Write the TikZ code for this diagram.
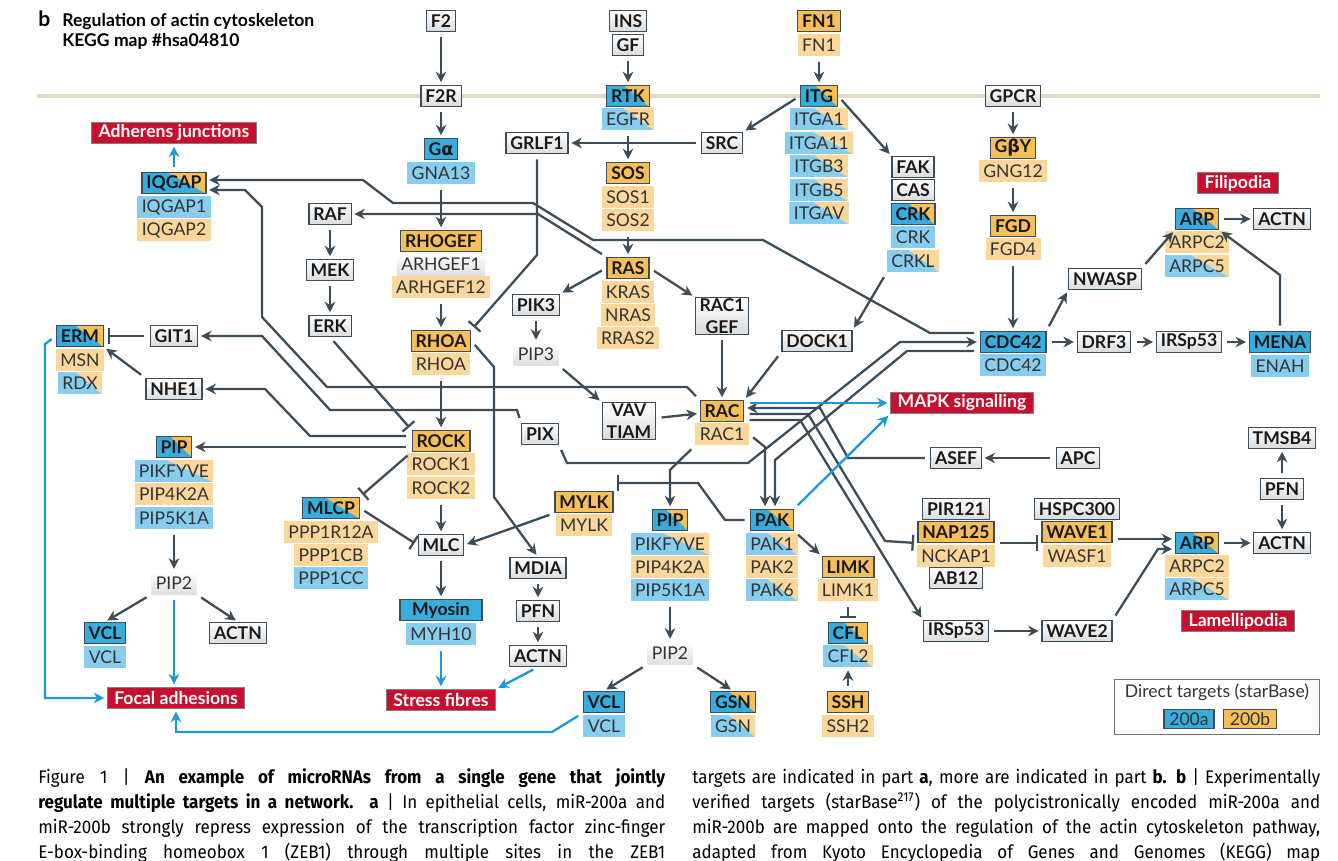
\documentclass[tikz,border=0pt]{standalone}
\usepackage{fontspec}
\setmainfont{Lato}
\newfontfamily\grkfont{DejaVu Sans}
\newfontfamily\capfont[FakeStretch=0.93]{Fira Sans}
\usepackage{xcolor}
\usepackage{tikz}
\usetikzlibrary{arrows.meta}
\usetikzlibrary{calc}

\definecolor{lnc}{HTML}{3E4C57}
\definecolor{bluarr}{HTML}{1C9AD6}
\definecolor{cAbox}{HTML}{38ACDD}
\definecolor{cBbox}{HTML}{F6BF5A}
\definecolor{cAg}{HTML}{86CDEE}
\definecolor{cBg}{HTML}{FCD79C}
\definecolor{phred}{HTML}{C8102E}
\definecolor{membr}{HTML}{E2D8C8}

\tikzset{
	mixfill/.style 2 args={path picture={
		\fill[#1] (path picture bounding box.south west) rectangle (path picture bounding box.north east);
		\fill[#2] ($(path picture bounding box.north west)!0.4!(path picture bounding box.north east)$) -- (path picture bounding box.north east) -- (path picture bounding box.south east) -- cycle;}},
	box/.style={draw=lnc, line width=0.7pt, top color=white, bottom color=gray!28, text=black!90,
		font=\fontsize{10}{12.5}\selectfont\bfseries, inner xsep=2.5pt, inner ysep=0.5pt, minimum height=0.42cm},
	bA/.style={box, top color=cAbox, bottom color=cAbox},
	bB/.style={box, top color=cBbox, bottom color=cBbox},
	bAB/.style={box, mixfill={cAbox}{cBbox}},
	gene/.style={font=\fontsize{10}{12}\selectfont, text=black!80, inner xsep=2.5pt, inner ysep=0pt, minimum height=0.45cm},
	gA/.style={gene, fill=cAg},
	gB/.style={gene, fill=cBg},
	gN/.style={gene, top color=white, bottom color=gray!25},
	gAB/.style={gene, mixfill={cAg}{cBg}},
	pheno/.style={fill=phred, draw=black!50, line width=0.5pt, text=white, font=\fontsize{10}{12}\selectfont\bfseries,
		inner xsep=4pt, inner ysep=0pt, minimum height=0.42cm},
	act/.style={draw=lnc, line width=1.3pt, -{Stealth[length=6pt,width=6pt]}, shorten >=1.5pt, shorten <=3pt},
	inh/.style={draw=lnc, line width=1.3pt, -{Bar[width=9pt]}, shorten >=2pt, shorten <=3pt},
	blu/.style={draw=bluarr, line width=1.3pt, -{Stealth[length=6pt,width=6pt]}, shorten >=1.5pt, shorten <=3pt},
	capl/.style={anchor=base west, inner sep=0pt, font=\capfont\fontsize{10.4}{12}\selectfont},
}

\begin{document}
\begin{tikzpicture}[x=0.02cm,y=-0.02cm]
	\useasboundingbox (0,0) rectangle (1338,861);
	\fill[white] (0,0) rectangle (1338,861);
	% title and membrane
	\node[anchor=base west, inner sep=0pt, font=\fontsize{12}{13}\selectfont\bfseries] (blbl) at (38,27) {b};
	\node[anchor=base west, inner sep=0pt, font=\fontsize{10}{12}\selectfont\bfseries] (title1) at (62,27) {Regulation of actin cytoskeleton};
	\node[anchor=base west, inner sep=0pt, font=\fontsize{10}{12}\selectfont\bfseries] (title2) at (62,47) {KEGG map \#hsa04810};
	\draw[membr, line width=2.8pt] (37,96) -- (1320,96);

	% receptors
	\node[box] (f2) at (441,21) {F2};
	\node[box] (f2r) at (441,96) {F2R};
	\node[bA] (ga) at (441,149) {G{\grkfont α}};
	\node[gA] (gna13) at (441,173) {GNA13};
	\node[box] (ins) at (628,21) {INS};
	\node[box] (gf) at (628,45) {GF};
	\node[bAB] (rtk) at (628,96) {RTK};
	\node[gAB] (egfr) at (628,119) {EGFR};
	\node[box] (src) at (722,143) {SRC};
	\node[box] (grlf1) at (537,143) {GRLF1};
	\node[bB] (sos) at (628,173) {SOS};
	\node[gB] (sos1) at (628,197) {SOS1};
	\node[gB] (sos2) at (628,220) {SOS2};
	\node[bB] (fn1) at (819,21) {FN1};
	\node[gB] (fn1g) at (819,45) {FN1};
	\node[bAB] (itg) at (819,96) {ITG};
	\node[gAB] (itga1) at (819,119) {ITGA1};
	\node[gAB] (itga11) at (819,143) {ITGA11};
	\node[gAB] (itgb3) at (819,166) {ITGB3};
	\node[gAB] (itgb5) at (819,190) {ITGB5};
	\node[gAB] (itgav) at (819,213) {ITGAV};
	\node[box] (fak) at (913,167) {FAK};
	\node[box] (cas) at (913,190) {CAS};
	\node[bAB] (crk) at (913,214) {CRK};
	\node[gA] (crkg) at (913,237) {CRK};
	\node[gAB] (crkl) at (913,261) {CRKL};
	\node[box] (gpcr) at (1013,96) {GPCR};
	\node[bB] (gby) at (1013,148) {G{\grkfont β}Y};
	\node[gB] (gng12) at (1013,171) {GNG12};
	\node[bB] (fgd) at (1013,226) {FGD};
	\node[gB] (fgd4) at (1013,249) {FGD4};

	% right side
	\node[pheno] (filo) at (1238,183) {Filipodia};
	\node[bAB] (arpf) at (1197,219) {ARP};
	\node[gB] (arpc2f) at (1197,242) {ARPC2};
	\node[gAB] (arpc5f) at (1197,266) {ARPC5};
	\node[box] (actnf) at (1282,219) {ACTN};
	\node[box] (nwasp) at (1105,279) {NWASP};
	\node[bA] (cdc42) at (1013,342) {CDC42};
	\node[gA] (cdc42g) at (1013,365) {CDC42};
	\node[box] (drf3) at (1104,342) {DRF3};
	\node[box] (irsp53a) at (1189,342) {IRSp53};
	\node[bA] (mena) at (1280,342) {MENA};
	\node[gA] (enah) at (1280,366) {ENAH};
	\node[pheno] (mapk) at (962,403) {MAPK signalling};
	\node[box] (tmsb4) at (1282,438) {TMSB4};
	\node[box] (pfnr) at (1282,489) {PFN};
	\node[box] (actnl) at (1282,543) {ACTN};
	\node[bAB] (arpl) at (1197,543) {ARP};
	\node[gB] (arpc2l) at (1197,566) {ARPC2};
	\node[gAB] (arpc5l) at (1197,589) {ARPC5};
	\node[pheno] (lamelli) at (1238,621) {Lamellipodia};
	\node[box] (asef) at (956,458) {ASEF};
	\node[box] (apc) at (1078,458) {APC};
	\node[box] (pir121) at (956,509) {PIR121};
	\node[bB] (nap125) at (956,532) {NAP125};
	\node[gB] (nckap1) at (956,556) {NCKAP1};
	\node[box] (ab12) at (956,578) {AB12};
	\node[box] (hspc300) at (1077,509) {HSPC300};
	\node[bB] (wave1) at (1077,532) {WAVE1};
	\node[gB] (wasf1) at (1077,556) {WASF1};
	\node[box] (irsp53b) at (956,631) {IRSp53};
	\node[box] (wave2) at (1077,631) {WAVE2};

	% legend
	\node[draw=black!55, line width=0.6pt, minimum width=4.1cm, minimum height=1.1cm, inner sep=0pt] (legend) at (1217,707) {};
	\node[font=\fontsize{10}{11}\selectfont, text=black!80] (legtxt) at (1217,692) {Direct targets (starBase)};
	\node[gene, draw=lnc, line width=0.6pt, fill=cAbox, minimum width=1cm, minimum height=0.38cm] (leg200a) at (1189,719) {200a};
	\node[gene, draw=lnc, line width=0.6pt, fill=cBbox, minimum width=1.06cm, minimum height=0.38cm] (leg200b) at (1250,719) {200b};

	% left side
	\node[pheno] (adher) at (174,133) {Adherens junctions};
	\node[bAB] (iqgap) at (174,183) {IQGAP};
	\node[gA] (iqgap1) at (174,207) {IQGAP1};
	\node[gB] (iqgap2) at (174,230) {IQGAP2};
	\node[box] (raf) at (330,214) {RAF};
	\node[box] (mek) at (330,270) {MEK};
	\node[box] (erk) at (330,326) {ERK};
	\node[bB] (rhogef) at (441,241) {RHOGEF};
	\node[gN] (arhgef1) at (441,264) {ARHGEF1};
	\node[gB] (arhgef12) at (441,287) {ARHGEF12};
	\node[bB] (rhoa) at (441,341) {RHOA};
	\node[gB] (rhoag) at (441,364) {RHOA};
	\node[bB] (ras) at (628,268) {RAS};
	\node[gB] (kras) at (628,292) {KRAS};
	\node[gB] (nras) at (628,315) {NRAS};
	\node[gB] (rras2) at (628,338) {RRAS2};
	\node[box] (pik3) at (536,305) {PIK3};
	\node[gN] (pip3) at (536,354) {PIP3};
	\node[box, align=center] (rac1gef) at (722,316) {RAC1\\GEF};
	\node[box] (dock1) at (817,341) {DOCK1};
	\node[box, align=center] (vav) at (629,421) {VAV\\TIAM};
	\node[bB] (rac) at (722,411) {RAC};
	\node[gB] (rac1) at (722,434) {RAC1};
	\node[box] (pix) at (540,434) {PIX};
	\node[box] (git1) at (174,336) {GIT1};
	\node[bAB] (erm) at (80,336) {ERM};
	\node[gB] (msn) at (80,360) {MSN};
	\node[gAB] (rdx) at (80,383) {RDX};
	\node[box] (nhe1) at (174,389) {NHE1};
	\node[bB] (rock) at (441,441) {ROCK};
	\node[gB] (rock1) at (441,464) {ROCK1};
	\node[gB] (rock2) at (441,488) {ROCK2};
	\node[bAB] (pipl) at (174,447) {PIP};
	\node[gAB] (pikfyvel) at (174,471) {PIKFYVE};
	\node[gB] (pip4k2al) at (174,494) {PIP4K2A};
	\node[gA] (pip5k1al) at (174,518) {PIP5K1A};
	\node[bAB] (mlcp) at (331,508) {MLCP};
	\node[gB] (ppp1r12a) at (331,532) {PPP1R12A};
	\node[gB] (ppp1cb) at (331,555) {PPP1CB};
	\node[gA] (ppp1cc) at (331,578) {PPP1CC};
	\node[box] (mlc) at (441,545) {MLC};
	\node[bB] (mylk) at (584,502) {MYLK};
	\node[gB] (mylkg) at (584,525) {MYLK};
	\node[box] (mdia) at (538,568) {MDIA};
	\node[box] (pfnm) at (538,611) {PFN};
	\node[box] (actnm) at (538,656) {ACTN};
	\node[bA, minimum width=1.64cm] (myosin) at (441,610) {Myosin};
	\node[gA] (myh10) at (441,634) {MYH10};
	\node[pheno] (stress) at (441,700) {Stress fibres};
	\node[bAB] (pipm) at (670,520) {PIP};
	\node[gAB] (pikfyvem) at (670,544) {PIKFYVE};
	\node[gB] (pip4k2am) at (670,567) {PIP4K2A};
	\node[gA] (pip5k1am) at (670,590) {PIP5K1A};
	\node[gN] (pip2m) at (670,653) {PIP2};
	\node[bA] (vclm) at (604,702) {VCL};
	\node[gA] (vclmg) at (604,726) {VCL};
	\node[bAB] (gsn) at (733,702) {GSN};
	\node[gAB] (gsng) at (733,726) {GSN};
	\node[bAB] (pak) at (772,520) {PAK};
	\node[gAB] (pak1) at (772,544) {PAK1};
	\node[gB] (pak2) at (772,567) {PAK2};
	\node[gAB] (pak6) at (772,590) {PAK6};
	\node[bB] (limk) at (848,567) {LIMK};
	\node[gB] (limk1) at (848,590) {LIMK1};
	\node[bAB] (cfl) at (848,633) {CFL};
	\node[gAB] (cfl2) at (848,656) {CFL2};
	\node[bB] (ssh) at (848,702) {SSH};
	\node[gB] (ssh2) at (848,726) {SSH2};
	\node[gN] (pip2l) at (174,583) {PIP2};
	\node[bA] (vcll) at (105,633) {VCL};
	\node[gA] (vcllg) at (105,657) {VCL};
	\node[box] (actnll) at (238,633) {ACTN};
	\node[pheno] (focal) at (176,698) {Focal adhesions};

	% connectors, top part
	\draw[act] (f2) -- (f2r);
	\draw[act] (f2r) -- (ga);
	\draw[act] (gna13) -- (rhogef);
	\draw[act] (arhgef12) -- (rhoa);
	\draw[act] (gf) -- (rtk);
	\draw[act] (egfr) -- (sos);
	\draw[act] (src) -- (grlf1);
	\draw[act] (sos2) -- (ras);
	\draw[act] (fn1g) -- (itg);
	\draw[act] (itg.west) -- (src.north east);
	\draw[act] (itg.east) -- (fak.north west);
	\draw[act] (gpcr) -- (gby);
	\draw[act] (gng12) -- (fgd);
	\draw[act] (fgd4) -- (cdc42);
	\draw[act] (crkl.south west) -- (dock1.north east);
	\draw[act] (dock1.south west) -- (rac.north east);
	\draw[act] (rac1gef) -- (rac);
	\draw[act] (ras.west) -- (pik3.north east);
	\draw[act] (ras.east) -- (rac1gef.north west);
	\draw[act] (pik3) -- (pip3);
	\draw[act] (pip3.south east) -- (vav.north west);
	\draw[act] (vav) -- (rac);
	\draw[act] (raf) -- (mek);
	\draw[act] (mek) -- (erk);
	\draw[act] (ras.north west) -- (538,214) -- (raf.east);
	\draw[inh] (grlf1.south) -- (537,255) -- (rhoa.north east);
	\draw[act] (cdc42.west |- 0,333) -- (930,333) -- (763,240) -- (593,240) -- (533,203) -- (393,203) -- (363,180) -- (iqgap.east |- 0,180);
	\draw[act] (rac.north west) -- (687,387) -- (327,387) -- (262,317) -- (262,207) -- (245,190) -- (iqgap.east |- 0,190);
	\draw[blu] (iqgap) -- (adher);

	% connectors, middle part
	\draw[act] (rhoag) -- (rock);
	\draw[act] (rhoa.east) -- (494,367) -- (494,497) -- (mdia.north);
	\draw[inh] (erk.south) -- (rock.north west);
	\draw[act] (pix.north west) -- (517,410) -- (330,410) -- (262,336) -- (git1.east);
	\draw[act] (rock.west |- 0,436) -- (310,436) -- (265,389) -- (nhe1.east);
	\draw[act] (rock.west |- pipl.east) -- (pipl.east);
	\draw[act] (nhe1.north west) -- (erm.south east);
	\draw[inh] (git1.west) -- (erm.east);
	\draw[blu] (erm.west) -- (45,344) -- (45,698) -- (focal.west);
	\draw[act] (pix.south east) -- (567,463) -- (748,463) -- (900,342) -- (cdc42.west);
	\draw[act] (cdc42.west |- 0,351) -- (907,351) -- (775,460) -- (775,0 |- pak.north);
	\draw[act] (rac1.east) -- (765,447) -- (765,0 |- pak.north);
	\draw[act] (asef.west) -- (848,458) -- (820,408) -- (rac.east |- 0,408);
	\draw[inh] (rac.east |- 0,414) -- (808,414) -- (885,541) -- (nap125.south west);
	\draw[act] (rac.east |- 0,420) -- (800,420) -- (irsp53b.north west);
	\draw[blu] (rac.east |- mapk.west) -- (mapk.west);
	\draw[blu] (pak.north east) -- (mapk.south west);
	\draw[act] (rac1.south west) -- (670,470) -- (pipm.north);
	\draw[inh] (pak.west) -- (725,520) -- (698,483) -- (mylk.east |- 0,483);

	% connectors, lower part
	\draw[act] (rock2) -- (mlc);
	\draw[act] (mlc) -- (myosin);
	\draw[blu] (myh10) -- (stress);
	\draw[inh] (rock.south west) -- (mlcp.north east);
	\draw[inh] (mlcp.east) -- (mlc.west);
	\draw[act] (mylk.south west) -- (mlc.east);
	\draw[act] (mdia) -- (pfnm);
	\draw[act] (pfnm) -- (actnm);
	\draw[blu] (actnm.south) -- (stress.north east);
	\draw[act] (pip5k1al) -- (pip2l);
	\draw[act] (pip2l.south west) -- (vcll.north);
	\draw[act] (pip2l.south east) -- (actnll.north);
	\draw[blu] (pip2l) -- (pip2l |- focal.north);
	\draw[act] (pip5k1am) -- (pip2m);
	\draw[act] (pip2m.south west) -- (vclm.north);
	\draw[act] (pip2m.south east) -- (gsn.north);
	\draw[blu] (vclm.south west) -- (552,732) -- (176,732) -- (focal.south);
	\draw[act] (pak.south east) -- (limk.north west);
	\draw[inh] (limk1) -- (cfl);
	\draw[act] (ssh) -- (cfl2);

	% connectors, right part
	\draw[act] (apc) -- (asef);
	\draw[inh] (nap125.south east) -- (wave1.south west);
	\draw[act] (wave1.east |- 0,539) -- (arpl.west |- 0,539);
	\draw[act] (wave2.north east) -- (1158,549) -- (arpl.west |- 0,549);
	\draw[act] (irsp53b) -- (wave2);
	\draw[act] (arpl) -- (actnl);
	\draw[act] (pfnr) -- (tmsb4);
	\draw[act] (pfnr) -- (actnl);
	\draw[act] (cdc42.north east) -- (nwasp.south west);
	\draw[act] (nwasp.north east) -- (arpf.south west);
	\draw[act] (arpf) -- (actnf);
	\draw[act] (mena.north) -- (1280,275) -- (arpf.south east);
	\draw[act] (cdc42) -- (drf3);
	\draw[act] (drf3) -- (irsp53a);
	\draw[act] (irsp53a) -- (mena);

	% caption
	\node[capl] (cap1) at (38,783) {\makebox[12.54cm][s]{Figure 1 | \textbf{An example of microRNAs from a single gene that jointly}}};
	\node[capl] (cap2) at (38,808) {\makebox[12.54cm][s]{\textbf{regulate multiple targets in a network. a} | In epithelial cells, miR-200a and}};
	\node[capl] (cap3) at (38,833) {\makebox[12.54cm][s]{miR-200b strongly repress expression of the transcription factor zinc-finger}};
	\node[capl] (cap4) at (38,858) {\makebox[12.54cm][s]{E-box-binding homeobox 1 (ZEB1) through multiple sites in the ZEB1}};
	\node[capl] (cap5) at (692,783) {\makebox[12.56cm][s]{targets are indicated in part \textbf{a}, more are indicated in part \textbf{b. b} | Experimentally}};
	\node[capl] (cap6) at (692,808) {\makebox[12.56cm][s]{verified targets (starBase\textsuperscript{217}) of the polycistronically encoded miR-200a and}};
	\node[capl] (cap7) at (692,833) {\makebox[12.56cm][s]{miR-200b are mapped onto the regulation of the actin cytoskeleton pathway,}};
	\node[capl] (cap8) at (692,858) {\makebox[12.56cm][s]{adapted from Kyoto Encyclopedia of Genes and Genomes (KEGG) map}};
\end{tikzpicture}
\end{document}
